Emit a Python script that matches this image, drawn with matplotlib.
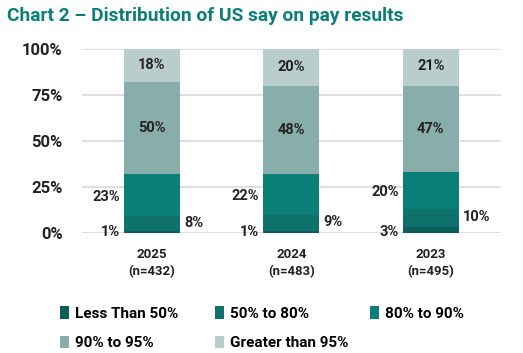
import matplotlib.pyplot as plt
import numpy as np

plt.rcParams['font.family'] = ['Roboto', 'DejaVu Sans']

years = ["2025\n(n=432)", "2024\n(n=483)", "2023\n(n=495)"]
categorias = ["Less Than 50%", "50% to 80%", "80% to 90%", "90% to 95%", "Greater than 95%"]
less_50 = [1, 1, 3]
p50_80 = [8, 9, 10]
p80_90 = [23, 22, 20]
p90_95 = [50, 48, 47]
mas_95 = [18, 20, 21]
colores = ["#0b5e59", "#0e716b", "#0a7f78", "#88aeab", "#b9cecc"]

series = [less_50, p50_80, p80_90, p90_95, mas_95]
x = np.arange(len(years))

fig = plt.figure(figsize=(5.23, 3.53), dpi=100)
ax = fig.add_axes([0.157, 0.34, 0.80, 0.522])

bottom = np.zeros(len(years))
barras = []
for vals, col, nom in zip(series, colores, categorias):
    b = ax.bar(x, vals, 0.4, bottom=bottom, color=col, label=nom, zorder=3)
    barras.append(b)
    bottom += np.array(vals)

# etiquetas
for i in range(len(years)):
    b = 0
    for k, vals in enumerate(series):
        v = vals[i]
        mid = b + v / 2
        if k == 0:
            ax.text(x[i] - 0.23, b + 0.5, f"{v}%", ha="right", va="center",
                    fontsize=10.5, fontweight="bold", color="#222222")
        elif k == 1:
            ax.text(x[i] + 0.23, mid + 0.5, f"{v}%", ha="left", va="center",
                    fontsize=10.5, fontweight="bold", color="#222222")
        elif k == 2:
            ax.text(x[i] - 0.23, mid - 1, f"{v}%", ha="right", va="center",
                    fontsize=10.5, fontweight="bold", color="#222222")
        else:
            ax.text(x[i], mid, f"{v}%", ha="center", va="center",
                    fontsize=10.5, fontweight="bold", color="#222222")
        b += v

ax.set_xlim(-0.5, 2.5)
ax.set_ylim(0, 100)
ax.set_yticks([0, 25, 50, 75, 100])
ax.set_yticklabels(["0%", "25%", "50%", "75%", "100%"], fontsize=12, fontweight="bold", color="#222222")
ax.set_xticks(x)
ax.set_xticklabels(years, fontsize=9.5, fontweight="bold", color="#222222", linespacing=1.4)
ax.tick_params(length=0, pad=11)
ax.tick_params(axis="y", pad=14)
ax.grid(axis="y", color="#d9d9d9", linewidth=1.2, zorder=0)
for s in ax.spines.values():
    s.set_visible(False)

fig.text(0.013, 0.955, "Chart 2 \u2013 Distribution of US say on pay results", fontsize=13.8,
         fontweight="bold", color="#0a7f78", va="center")

# leyenda en tres columnas de ancho fijo
columnas = [[0, 3], [1, 4], [2]]
pos_x = [0.115, 0.411, 0.707]
for cols, px in zip(columnas, pos_x):
    fig.legend([barras[i] for i in cols], [categorias[i] for i in cols],
               loc="upper left", bbox_to_anchor=(px, 0.132),
               ncol=1, frameon=False, borderpad=0, borderaxespad=0,
               prop={"size": 11, "weight": "bold"}, handlelength=0.6, handleheight=0.9,
               handletextpad=0.4, labelspacing=0.95)

plt.savefig("out.png", dpi=100)
